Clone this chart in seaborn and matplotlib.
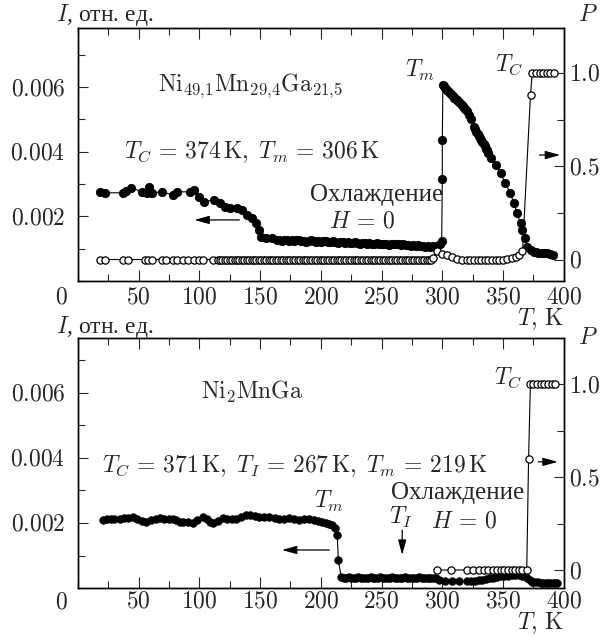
import matplotlib
matplotlib.use("Agg")
import matplotlib.pyplot as plt
import seaborn as sns
from matplotlib.ticker import MultipleLocator

sns.set_style("ticks")
plt.rcParams["font.family"] = ["Liberation Serif", "DejaVu Serif"]
plt.rcParams["mathtext.fontset"] = "cm"
plt.rcParams["axes.unicode_minus"] = False

FS = 17

# ---------------- data: top panel (Ni49.1Mn29.4Ga21.5) ----------------
top_T_I = [18, 22, 37, 40, 44, 53, 57, 59, 61, 69, 78, 82, 92, 96, 100, 104,
           112.5, 117, 121, 125, 131, 135.5, 139, 143, 147, 149.5, 151, 155, 160, 164,
           166, 168, 170, 172, 174, 176, 178, 180, 182, 184, 186, 188, 190, 192, 194,
           196, 198, 200, 202, 204, 206, 208, 210, 212, 214, 216, 218, 220, 222, 224,
           226, 228, 230, 232, 234, 236, 238, 240, 242, 244, 246, 248, 250, 252, 254,
           256, 258, 260, 262, 264, 266, 268, 270, 272, 274, 276, 278, 280, 282, 284,
           286, 288, 290, 292, 294, 296, 298, 299.5, 300, 300, 300.5,
           301, 302, 303, 304, 305, 306, 307, 308, 309, 310, 311, 312, 313, 314, 315,
           316, 317, 318, 319, 320, 322, 324, 326, 327, 328, 329, 330, 331, 332, 333,
           334, 335, 336, 337, 338, 340, 344, 348, 352, 356, 359, 361.7, 364.4, 365.8,
           368, 369.9, 372.6, 375.4, 377, 379, 382, 384.5, 386, 388.6, 391.3]
top_I = [0.00276, 0.00273, 0.00273, 0.00280, 0.00289, 0.00276, 0.00273, 0.00292, 0.00273,
         0.00276, 0.00267, 0.00276, 0.00276, 0.00283, 0.00261, 0.00245,
         0.00252, 0.00242, 0.00230, 0.00227, 0.00227, 0.00220, 0.00205, 0.00196, 0.00180,
         0.00158, 0.00137, 0.00134, 0.00134, 0.00127,
         0.00127, 0.00125, 0.00128, 0.00126, 0.00124, 0.00127, 0.00125, 0.00128, 0.00126,
         0.00123, 0.00125, 0.00122, 0.00124, 0.00126, 0.00123,
         0.00121, 0.00124, 0.00122, 0.00125, 0.00123, 0.00120, 0.00122, 0.00124, 0.00121,
         0.00119, 0.00122, 0.00120, 0.00118, 0.00121, 0.00119,
         0.00117, 0.00120, 0.00118, 0.00116, 0.00119, 0.00117, 0.00115, 0.00118, 0.00116,
         0.00114, 0.00117, 0.00115, 0.00113, 0.00116, 0.00114,
         0.00112, 0.00115, 0.00113, 0.00116, 0.00114, 0.00111, 0.00113, 0.00110, 0.00112,
         0.00109, 0.00111, 0.00108, 0.00110, 0.00107, 0.00109,
         0.00106, 0.00108, 0.00105, 0.00107, 0.00104, 0.00108, 0.00114, 0.00125, 0.00317,
         0.00435, 0.00606,
         0.00603, 0.00598, 0.00595, 0.00590, 0.00588, 0.00582, 0.00580, 0.00575, 0.00572,
         0.00567, 0.00564, 0.00560, 0.00556, 0.00553, 0.00549,
         0.00546, 0.00541, 0.00537, 0.00532, 0.00527, 0.00515, 0.00500, 0.00478, 0.00470,
         0.00462, 0.00456, 0.00450, 0.00444, 0.00437, 0.00430,
         0.00425, 0.00418, 0.00410, 0.00404, 0.00395, 0.00380, 0.00359, 0.00333, 0.00302,
         0.00271, 0.00240, 0.00209, 0.00178, 0.00158,
         0.00132, 0.00106, 0.00096, 0.00091, 0.00090, 0.00088, 0.00087, 0.00086, 0.00087,
         0.00084, 0.00080]

top_T_P = [18, 22, 37, 41, 55, 58, 61, 69, 73, 78, 82, 87, 91, 96, 100, 103, 111,
           115, 117, 119, 121, 123, 125, 127, 129, 131, 133, 135, 137, 139, 141, 143,
           145, 147, 149, 151, 153, 155, 157, 159, 161, 163, 165, 167, 169, 171, 173,
           175, 177, 179, 181, 183, 185, 187, 189, 191, 193, 195, 197, 199, 201, 203,
           205, 207, 209, 211, 213, 215, 217, 219, 221, 223, 225, 227, 229, 231, 233,
           235, 237, 239, 241, 243, 245, 247, 249, 251, 253, 255, 257, 259, 261, 263,
           265, 267, 269, 271, 273, 275, 277, 279, 281, 283, 285, 287, 289, 291,
           292, 296, 300, 304, 308, 312.5, 316.6, 320, 323, 326, 329, 332, 335, 338,
           341, 344, 347, 350, 353, 357, 360.6, 363.5, 366, 372.6,
           374, 377, 380, 383, 386, 389, 392]
top_P = [0.0, 0.0, 0.0, 0.0, 0.0, 0.0, 0.0, 0.0, 0.0, 0.0, 0.0, 0.0, 0.0, 0.0, 0.0, 0.0, 0.0,
         0.0, 0.0, 0.0, 0.0, 0.0, 0.0, 0.0, 0.0, 0.0, 0.0, 0.0, 0.0, 0.0, 0.0, 0.0,
         0.0, 0.0, 0.0, 0.0, 0.0, 0.0, 0.0, 0.0, 0.0, 0.0, 0.0, 0.0, 0.0, 0.0, 0.0,
         0.0, 0.0, 0.0, 0.0, 0.0, 0.0, 0.0, 0.0, 0.0, 0.0, 0.0, 0.0, 0.0, 0.0, 0.0,
         0.0, 0.0, 0.0, 0.0, 0.0, 0.0, 0.0, 0.0, 0.0, 0.0, 0.0, 0.0, 0.0, 0.0, 0.0,
         0.0, 0.0, 0.0, 0.0, 0.0, 0.0, 0.0, 0.0, 0.0, 0.0, 0.0, 0.0, 0.0, 0.0, 0.0,
         0.0, 0.0, 0.0, 0.0, 0.0, 0.0, 0.0, 0.0, 0.0, 0.0, 0.0, 0.0, 0.0, 0.0,
         0.007, 0.043, 0.032, 0.025, 0.014, 0.004, 0.0, 0.0, 0.0, 0.0, 0.0, 0.0, 0.0, 0.0,
         0.0, 0.0, 0.0, 0.0, 0.003, 0.007, 0.014, 0.025, 0.043, 0.884,
         1.0, 1.0, 1.0, 1.0, 1.0, 1.0, 1.0]

# ---------------- data: bottom panel (Ni2MnGa) ----------------
bot_T_I = [20.8, 24, 27, 30, 34.5, 38, 41, 45.4, 49, 53, 56.4, 60, 64, 67.4, 71, 75,
           78.3, 81, 83.8, 87, 91, 94.7, 98, 102.9, 106, 109, 111.1, 115, 119.3, 123,
           127, 130.3, 134, 138.6, 142, 146, 149.5, 153, 157.7, 162, 165.9, 170, 174.1,
           178, 182.3, 186, 190.6, 194, 198, 201, 204, 207, 209.4, 211.5, 213.6, 214.4,
           216.8,
           219, 221, 223, 225, 227, 229, 231, 233, 235, 237, 239, 241, 243, 245, 247,
           249, 251, 253, 255, 257, 259, 261, 263, 265, 267, 269, 271, 273, 275, 277,
           279, 281, 283, 285, 287, 289, 291, 293, 295,
           297.3, 302, 308, 314, 320.6, 324, 327, 330, 333, 336, 339, 342, 345, 348,
           351, 354, 357, 360, 363, 366, 368, 370, 372, 374, 376.7, 379, 381, 383,
           385, 387, 389, 391, 393, 394]
bot_I = [0.00209, 0.00212, 0.00213, 0.00211, 0.00211, 0.00214, 0.00216, 0.00218, 0.00213,
         0.00207, 0.00204, 0.00209, 0.00213, 0.00214, 0.00212, 0.00211,
         0.00212, 0.00208, 0.00204, 0.00203, 0.00202, 0.00201, 0.00210, 0.00219, 0.00212,
         0.00203, 0.00199, 0.00206, 0.00214, 0.00213,
         0.00211, 0.00211, 0.00217, 0.00225, 0.00224, 0.00220, 0.00219, 0.00218, 0.00218,
         0.00214, 0.00211, 0.00213, 0.00214,
         0.00211, 0.00209, 0.00211, 0.00212, 0.00210, 0.00206, 0.00203, 0.00201, 0.00198,
         0.00194, 0.00185, 0.00163, 0.00086,
         0.00034,
         0.00032, 0.00031, 0.00033, 0.00031, 0.00030, 0.00032, 0.00033, 0.00031, 0.00030,
         0.00032, 0.00031, 0.00033, 0.00032, 0.00030, 0.00031,
         0.00033, 0.00032, 0.00031, 0.00030, 0.00032, 0.00033, 0.00031, 0.00032, 0.00030,
         0.00031, 0.00033, 0.00032, 0.00031, 0.00030, 0.00032,
         0.00031, 0.00033, 0.00032, 0.00030, 0.00031, 0.00032, 0.00031, 0.00030, 0.00031,
         0.00025, 0.00022, 0.00022, 0.00021, 0.00022, 0.00022, 0.00023, 0.00024, 0.00025,
         0.00027, 0.00030, 0.00032, 0.00034, 0.00036,
         0.00037, 0.00038, 0.00039, 0.00040, 0.00039, 0.00038, 0.00036, 0.00032, 0.00025,
         0.00020, 0.00018, 0.00017, 0.00016, 0.00016,
         0.00015, 0.00016, 0.00015, 0.00015, 0.00014, 0.00015]

bot_T_P = [296, 307, 320, 325, 330, 334, 338, 342, 345, 348, 351, 354, 357, 360, 363,
           366, 369.5, 371, 372.5, 375, 378, 381, 384, 387, 390, 393]
bot_P = [0.0, 0.0, 0.0, 0.0, 0.0, 0.0, 0.0, 0.0, 0.0, 0.0, 0.0, 0.0, 0.0, 0.0, 0.0,
         0.0, 0.0, 0.6, 1.0, 1.0, 1.0, 1.0, 1.0, 1.0, 1.0, 1.0]

# ---------------- ticks / labels ----------------
x_ticks = [50, 100, 150, 200, 250, 300, 350, 400]
x_tick_labels = ["$50$", "$100$", "$150$", "$200$", "$250$", "$300$", "$350$", "$400$"]
i_ticks = [0.002, 0.004, 0.006]
i_tick_labels = ["$0.002$", "$0.004$", "$0.006$"]
p_ticks = [0.0, 0.5, 1.0]
p_tick_labels = ["$0$", "$0.5$", "$1.0$"]

fig = plt.figure(figsize=(6.03, 6.37), dpi=100)
fig.patch.set_facecolor("white")
ax_top = fig.add_axes([0.129, 0.5589, 0.806, 0.397])
ax_bot = fig.add_axes([0.129, 0.0769, 0.806, 0.3925])

ARROW = dict(arrowstyle="-|>,head_length=0.9,head_width=0.25", color="black",
             lw=0.9, shrinkA=0, shrinkB=0)


def draw_panel(ax, T_I, I, T_P, P, ylim, plim, ms_f, tk_y, xpad, zero_y):
    axp = ax.twinx()
    sns.lineplot(x=T_I, y=I, ax=ax, sort=False, estimator=None, color="black",
                 lw=0.8, marker="o", ms=ms_f, mfc="black", mec="black", mew=0.6,
                 legend=False)
    sns.lineplot(x=T_P, y=P, ax=axp, sort=False, estimator=None, color="black",
                 lw=0.8, marker="o", ms=5.2, mfc="white", mec="black", mew=0.9,
                 legend=False)
    ax.set_xlim(0, 400)
    ax.set_ylim(*ylim)
    axp.set_ylim(*plim)
    ax.set_xticks(x_ticks)
    ax.set_xticklabels(x_tick_labels, fontsize=FS)
    ax.xaxis.set_minor_locator(MultipleLocator(25))
    ax.set_yticks(i_ticks)
    ax.set_yticklabels(i_tick_labels, fontsize=FS)
    ax.yaxis.set_minor_locator(MultipleLocator(0.001))
    axp.set_yticks(p_ticks)
    axp.set_yticklabels(p_tick_labels, fontsize=FS)
    axp.yaxis.set_minor_locator(MultipleLocator(0.25))
    ax.tick_params(axis="x", which="both", direction="in", top=True, bottom=True,
                   pad=xpad, width=0.8)
    ax.tick_params(axis="x", which="major", length=8)
    ax.tick_params(axis="x", which="minor", length=5)
    ax.tick_params(axis="y", which="both", direction="in", left=True, right=False,
                   pad=9, width=0.8)
    ax.tick_params(axis="y", which="major", length=7)
    ax.tick_params(axis="y", which="minor", length=5)
    axp.tick_params(axis="y", which="both", direction="in", right=True, pad=4, width=0.8)
    axp.tick_params(axis="y", which="major", length=7)
    axp.tick_params(axis="y", which="minor", length=5)
    ax.set_xlabel("")
    ax.set_ylabel("")
    axp.set_ylabel("")
    for a in (ax, axp):
        for s in a.spines.values():
            s.set_linewidth(1.0)
            s.set_color("black")
    ax.text(-0.033, zero_y, "$0$", transform=ax.transAxes, ha="center", va="center",
            fontsize=FS)
    ax.text(1.0, tk_y, r"$T,\,\mathrm{K}$", transform=ax.transAxes, ha="right",
            va="bottom", fontsize=FS)
    return axp


axp_top = draw_panel(ax_top, top_T_I, top_I, top_T_P, top_P,
                     (0.0, 0.00783), (-0.115, 1.24), 6.0, -0.2, 5, -0.066)
axp_bot = draw_panel(ax_bot, bot_T_I, bot_I, bot_T_P, bot_P,
                     (0.0, 0.00769), (-0.097, 1.25), 5.4, -0.193, 2.5, -0.058)

# ---------------- annotations: top ----------------
ax_top.text(-0.045, 1.03, "$I$, отн. ед.", transform=ax_top.transAxes, ha="left",
            va="baseline", fontsize=FS)
ax_top.text(1.05, 1.03, "$P$", transform=ax_top.transAxes, ha="center",
            va="baseline", fontsize=FS)
ax_top.text(142, 0.00606, r"$\mathrm{Ni}_{49{,}1}\mathrm{Mn}_{29{,}4}\mathrm{Ga}_{21{,}5}$",
            ha="center", va="center", fontsize=FS)
ax_top.text(143, 0.00399, r"$T_C\,=\,374\,\mathrm{K},\;T_m\,=\,306\,\mathrm{K}$",
            ha="center", va="center", fontsize=FS)
ax_top.text(246, 0.00266, "Охлаждение", ha="center", va="center", fontsize=FS + 1)
ax_top.text(234, 0.00182, r"$H\,=\,0$", ha="center", va="center", fontsize=FS)
ax_top.text(282, 0.00653, r"$T_m$", ha="center", va="center", fontsize=FS)
ax_top.text(355, 0.00668, r"$T_C$", ha="center", va="center", fontsize=FS)
ax_top.annotate("", xy=(96, 0.00189), xytext=(133, 0.00189), arrowprops=ARROW)
ax_top.annotate("", xy=(397, 0.0039), xytext=(380, 0.0039), arrowprops=ARROW)

# ---------------- annotations: bottom ----------------
ax_bot.text(-0.045, 1.02, "$I$, отн. ед.", transform=ax_bot.transAxes, ha="left",
            va="baseline", fontsize=FS)
ax_bot.text(1.05, 0.975, "$P$", transform=ax_bot.transAxes, ha="center",
            va="baseline", fontsize=FS)
ax_bot.text(143, 0.00603, r"$\mathrm{Ni}_{2}\mathrm{MnGa}$", ha="center", va="center",
            fontsize=FS)
ax_bot.text(178.5, 0.00375,
            r"$T_C\,=\,371\,\mathrm{K},\;T_I\,=\,267\,\mathrm{K},\;T_m\,=\,219\,\mathrm{K}$",
            ha="center", va="center", fontsize=FS)
ax_bot.text(312.6, 0.00292, "Охлаждение", ha="center", va="center", fontsize=FS + 1)
ax_bot.text(265.7, 0.00218, r"$T_I$", ha="center", va="center", fontsize=FS)
ax_bot.text(317.6, 0.00203, r"$H\,=\,0$", ha="center", va="center", fontsize=FS)
ax_bot.text(206.5, 0.00265, r"$T_m$", ha="center", va="center", fontsize=FS)
ax_bot.text(354.6, 0.00646, r"$T_C$", ha="center", va="center", fontsize=FS)
ax_bot.annotate("", xy=(168, 0.00117), xytext=(207, 0.00117), arrowprops=ARROW)
ax_bot.annotate("", xy=(267, 0.00102), xytext=(267, 0.00178), arrowprops=ARROW)
ax_bot.annotate("", xy=(395, 0.00388), xytext=(379, 0.00388), arrowprops=ARROW)

fig.savefig("out.png", dpi=100, facecolor="white")
